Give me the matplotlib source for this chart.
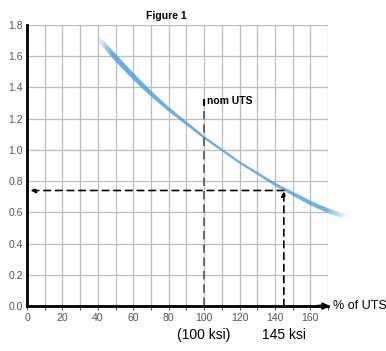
import numpy as np
import matplotlib
matplotlib.use('Agg')
import matplotlib.pyplot as plt

# curve (% of UTS -> factor)
pct_uts = [40, 50, 60, 70, 80, 90, 100, 110, 120, 130, 140, 145, 150, 160, 170, 180]
factor = [1.72, 1.59, 1.47, 1.36, 1.26, 1.17, 1.08, 1.00, 0.92, 0.85, 0.78, 0.75, 0.72, 0.66, 0.61, 0.57]
# apparent line width along the curve (px)
width = [4.5, 5.2, 5.0, 4.2, 3.4, 2.8, 2.4, 2.2, 2.2, 2.4, 2.8, 3.0, 3.4, 4.0, 4.4, 4.6]

x_ticks = [0, 20, 40, 60, 80, 100, 120, 140, 160]
y_ticks = [0.0, 0.2, 0.4, 0.6, 0.8, 1.0, 1.2, 1.4, 1.6, 1.8]

nom_uts = 100
nom_top = 1.32
pick_x = 145
pick_y = 0.74

plt.rcParams['font.family'] = ['Liberation Sans Narrow', 'Liberation Sans', 'DejaVu Sans']

fig = plt.figure(figsize=(3.86, 3.51), dpi=100)
ax = fig.add_axes([0.070, 0.128, 0.780, 0.801])
ax.set_xlim(0, 170)
ax.set_ylim(0, 1.8)

ax.set_xticks(np.arange(0, 171, 10), minor=True)
ax.set_xticks(x_ticks)
ax.set_yticks(y_ticks)
ax.set_yticklabels([f'{v:.1f}' for v in y_ticks])
ax.grid(True, which='both', color='#bdbdbd', lw=0.9)
ax.set_axisbelow(True)
ax.tick_params(axis='both', which='both', labelsize=7.5, colors='#555555', length=3, width=0.8)
ax.tick_params(axis='y', length=0, pad=3)
ax.tick_params(axis='x', direction='out', pad=2)

for s in ['top', 'right']:
    ax.spines[s].set_visible(False)
ax.spines['left'].set_linewidth(2)
ax.spines['bottom'].set_linewidth(2)

# x axis arrow
ax.annotate('', xy=(171, 0), xytext=(164, 0), xycoords='data',
            arrowprops=dict(arrowstyle='-|>', color='black', lw=2, mutation_scale=8,
                            shrinkA=0, shrinkB=0),
            annotation_clip=False)
ax.text(172.5, 0, '% of UTS', fontsize=9, va='center', ha='left', clip_on=False)

# curve with varying thickness and faded ends
xs = np.array(pct_uts, dtype=float)
ys = np.array(factor)
ws = np.array(width)
xf = np.linspace(xs[0], xs[-1], 300)
yf = np.interp(xf, xs, ys)
wf = np.interp(xf, xs, ws)
for i in range(len(xf) - 1):
    t0 = (xf[i] - xs[0]) / 8.0
    t1 = (xs[-1] - xf[i]) / 12.0
    a = min(1.0, t0, t1)
    a = max(a, 0.05)
    ax.plot(xf[i:i + 2], yf[i:i + 2], color='#4ea5de', lw=wf[i] * 0.72,
            alpha=a, solid_capstyle='butt', clip_on=False)

# nominal UTS marker
ax.plot([nom_uts, nom_uts], [0, nom_top], color='#555555', lw=1.2, dashes=(5, 3))
ax.plot([nom_uts, nom_uts], [nom_top - 0.03, nom_top], color='black', lw=1.5)
ax.text(nom_uts + 1.5, nom_top - 0.01, 'nom UTS', fontsize=7.5, fontweight='bold',
        va='center', ha='left', family=['Liberation Sans', 'DejaVu Sans'])

# reading at 145 ksi
ax.annotate('', xy=(pick_x, pick_y - 0.005), xytext=(pick_x, 0),
            arrowprops=dict(arrowstyle='-|>', color='black', lw=1.2, ls=(0, (4, 3)),
                            mutation_scale=7, shrinkA=0, shrinkB=0))
ax.annotate('', xy=(2, pick_y), xytext=(pick_x, pick_y),
            arrowprops=dict(arrowstyle='-|>', color='black', lw=1.2, ls=(0, (4, 3)),
                            mutation_scale=7, shrinkA=0, shrinkB=0))

ax.text(nom_uts, -0.14, '(100 ksi)', fontsize=10, ha='center', va='top')
ax.text(pick_x, -0.14, '145 ksi', fontsize=10, ha='center', va='top')

fig.text(0.43, 0.955, 'Figure 1', fontsize=7.5, fontweight='bold', ha='center', va='center',
         family=['Liberation Sans', 'DejaVu Sans'])

fig.savefig('out.png', dpi=100)
